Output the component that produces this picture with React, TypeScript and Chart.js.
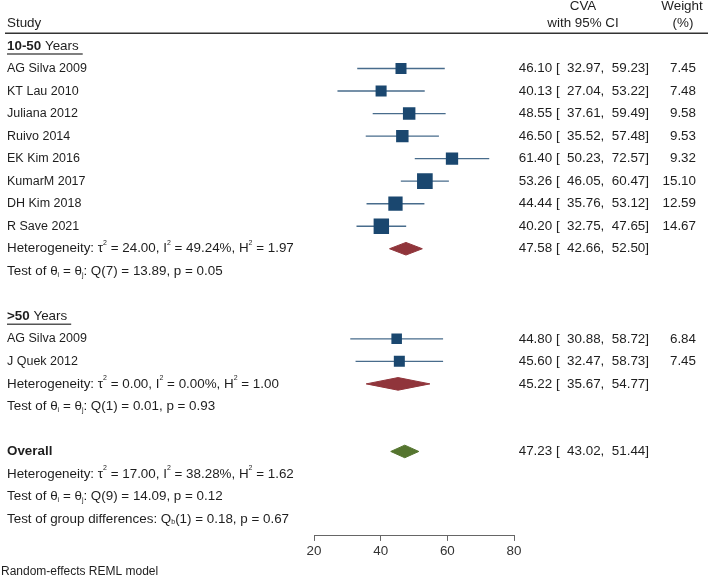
import React, { useEffect, useRef } from "react";
import { Chart, registerables } from "chart.js";

Chart.register(...registerables);

const FONT = '"Liberation Sans", Arial, Helvetica, sans-serif';
const TEXT = "#1e1e1e";
const NAVY = "#1a476f";
const CI_LINE = "rgba(26,71,111,0.8)";
const MAROON = "#90353b";
const GREEN = "#55752f";
const BIG = 13.4;
const NAME = 12.5;
const SMALL = 12;

// ---- data ----
const group1Label = "10-50";
const group1Studies = ["AG Silva 2009", "KT Lau 2010", "Juliana 2012", "Ruivo 2014", "EK Kim 2016", "KumarM 2017", "DH Kim 2018", "R Save 2021"];
const group1Est = [46.1, 40.13, 48.55, 46.5, 61.4, 53.26, 44.44, 40.2];
const group1Lo = [32.97, 27.04, 37.61, 35.52, 50.23, 46.05, 35.76, 32.75];
const group1Hi = [59.23, 53.22, 59.49, 57.48, 72.57, 60.47, 53.12, 47.65];
const group1Weight = [7.45, 7.48, 9.58, 9.53, 9.32, 15.1, 12.59, 14.67];
const group1Summary = [47.58, 42.66, 52.5];
const group1Het = "Heterogeneity: τ^{2} = 24.00, I^{2} = 49.24%, H^{2} = 1.97";
const group1Test = "Test of θ_{i} = θ_{j}: Q(7) = 13.89, p = 0.05";

const group2Label = ">50";
const group2Studies = ["AG Silva 2009", "J Quek 2012"];
const group2Est = [44.8, 45.6];
const group2Lo = [30.88, 32.47];
const group2Hi = [58.72, 58.73];
const group2Weight = [6.84, 7.45];
const group2Summary = [45.22, 35.67, 54.77];
const group2Het = "Heterogeneity: τ^{2} = 0.00, I^{2} = 0.00%, H^{2} = 1.00";
const group2Test = "Test of θ_{i} = θ_{j}: Q(1) = 0.01, p = 0.93";

const overallSummary = [47.23, 43.02, 51.44];
const overallHet = "Heterogeneity: τ^{2} = 17.00, I^{2} = 38.28%, H^{2} = 1.62";
const overallTest = "Test of θ_{i} = θ_{j}: Q(9) = 14.09, p = 0.12";
const groupDiffTest = "Test of group differences: Q_{b}(1) = 0.18, p = 0.67";
const modelNote = "Random-effects REML model";

const xTicks = [20, 40, 60, 80];

// ---- row layout (row indices) ----
const G1_HEAD = 0;
const G1_FIRST = 1;
const G1_HET = G1_FIRST + group1Studies.length; // 9
const G2_HEAD = G1_HET + 3; // 12
const G2_FIRST = G2_HEAD + 1;
const G2_HET = G2_FIRST + group2Studies.length; // 15
const OVERALL = G2_HET + 3; // 18
const GROUP_DIFF = OVERALL + 3; // 21

const DIAMOND_H = 0.28;
const squareRadius = (w: number) => (4.03 * Math.sqrt(w)) / Math.SQRT2;

const ciText = (e: number, l: number, h: number) =>
  `${e.toFixed(2)} [ ${l.toFixed(2).padStart(6, " ")}, ${h.toFixed(2).padStart(6, " ")}]`;

function drawRich(ctx: CanvasRenderingContext2D, s: string, x: number, y: number, size = BIG) {
  const parts = s.split(/(\^\{[^}]*\}|_\{[^}]*\}|\*\*[^*]*\*\*)/g).filter((p) => p.length);
  let cx = x;
  ctx.textAlign = "left";
  ctx.textBaseline = "middle";
  for (const p of parts) {
    let text = p;
    let font = `${size}px ${FONT}`;
    let dy = 0;
    if (p.startsWith("^{")) {
      text = p.slice(2, -1);
      font = `${Math.round(size * 0.52)}px ${FONT}`;
      dy = -5.5;
    } else if (p.startsWith("_{")) {
      text = p.slice(2, -1);
      font = `${Math.round(size * 0.55)}px ${FONT}`;
      dy = 3.5;
    } else if (p.startsWith("**")) {
      text = p.slice(2, -2);
      font = `bold ${size}px ${FONT}`;
    }
    ctx.font = font;
    ctx.fillText(text, cx, y + dy);
    cx += ctx.measureText(text).width;
  }
  return cx - x;
}

const textPlugin = {
  id: "forestText",
  afterDraw(chart: any) {
    const ctx: CanvasRenderingContext2D = chart.ctx;
    const ys = chart.scales.y;
    const rowY = (r: number) => ys.getPixelForValue(r);
    const W = chart.width;
    const LX = 7;
    const CI_RIGHT = 649;
    const W_RIGHT = 696;
    ctx.save();
    ctx.fillStyle = TEXT;

    // header
    ctx.font = `${BIG}px ${FONT}`;
    ctx.textBaseline = "middle";
    ctx.textAlign = "left";
    ctx.fillText("Study", LX, rowY(-1));
    ctx.textAlign = "center";
    ctx.fillText("CVA", 583, rowY(-1.75));
    ctx.fillText("with 95% CI", 583, rowY(-1));
    ctx.fillText("Weight", 682, rowY(-1.75));
    ctx.fillText("(%)", 683, rowY(-1));
    ctx.strokeStyle = "#333";
    ctx.lineWidth = 1.5;
    ctx.beginPath();
    ctx.moveTo(5, rowY(-0.57));
    ctx.lineTo(W, rowY(-0.57));
    ctx.stroke();

    const sectionHead = (label: string, row: number) => {
      ctx.fillStyle = TEXT;
      const w = drawRich(ctx, `**${label}** Years`, LX, rowY(row));
      ctx.strokeStyle = "#555";
      ctx.lineWidth = 1.5;
      ctx.beginPath();
      ctx.moveTo(LX, rowY(row) + 8);
      ctx.lineTo(LX + w + 4, rowY(row) + 8);
      ctx.stroke();
    };

    const studyRows = (names: string[], est: number[], lo: number[], hi: number[], wt: number[], first: number) => {
      names.forEach((n, i) => {
        const y = rowY(first + i);
        ctx.textBaseline = "middle";
        ctx.textAlign = "left";
        ctx.font = `${NAME}px ${FONT}`;
        ctx.fillText(n, LX, y);
        ctx.font = `${BIG}px ${FONT}`;
        ctx.textAlign = "right";
        ctx.fillText(ciText(est[i], lo[i], hi[i]), CI_RIGHT, y);
        ctx.fillText(wt[i].toFixed(2), W_RIGHT, y);
      });
    };

    const summaryCI = (s: number[], row: number) => {
      ctx.font = `${BIG}px ${FONT}`;
      ctx.textAlign = "right";
      ctx.textBaseline = "middle";
      ctx.fillText(ciText(s[0], s[1], s[2]), CI_RIGHT, rowY(row));
    };

    sectionHead(group1Label, G1_HEAD);
    studyRows(group1Studies, group1Est, group1Lo, group1Hi, group1Weight, G1_FIRST);
    drawRich(ctx, group1Het, LX, rowY(G1_HET));
    summaryCI(group1Summary, G1_HET);
    drawRich(ctx, group1Test, LX, rowY(G1_HET + 1));

    sectionHead(group2Label, G2_HEAD);
    studyRows(group2Studies, group2Est, group2Lo, group2Hi, group2Weight, G2_FIRST);
    drawRich(ctx, group2Het, LX, rowY(G2_HET));
    summaryCI(group2Summary, G2_HET);
    drawRich(ctx, group2Test, LX, rowY(G2_HET + 1));

    drawRich(ctx, "**Overall**", LX, rowY(OVERALL));
    summaryCI(overallSummary, OVERALL);
    drawRich(ctx, overallHet, LX, rowY(OVERALL + 1));
    drawRich(ctx, overallTest, LX, rowY(OVERALL + 2));
    drawRich(ctx, groupDiffTest, LX, rowY(GROUP_DIFF));

    ctx.font = `${SMALL}px ${FONT}`;
    ctx.textAlign = "left";
    ctx.textBaseline = "middle";
    ctx.fillText(modelNote, 1, 572);
    ctx.restore();
  },
};

function buildDatasets() {
  const ds: any[] = [];
  const addStudies = (est: number[], lo: number[], hi: number[], wt: number[], first: number) => {
    est.forEach((_, i) => {
      ds.push({
        type: "line",
        data: [
          { x: lo[i], y: first + i },
          { x: hi[i], y: first + i },
        ],
        borderColor: CI_LINE,
        borderWidth: 1.4,
        pointRadius: 0,
        fill: false,
        order: 2,
      });
    });
    ds.push({
      type: "scatter",
      data: est.map((e, i) => ({ x: e, y: first + i })),
      pointStyle: "rect",
      pointRadius: wt.map(squareRadius),
      backgroundColor: NAVY,
      borderColor: NAVY,
      borderWidth: 0,
      order: 1,
    });
  };
  const addDiamond = (s: number[], row: number, color: string) => {
    ds.push({
      type: "line",
      data: [
        { x: s[1], y: row },
        { x: s[0], y: row - DIAMOND_H },
        { x: s[2], y: row },
        { x: s[0], y: row + DIAMOND_H },
        { x: s[1], y: row },
      ],
      fill: "shape",
      backgroundColor: color,
      borderColor: color,
      borderWidth: 1,
      pointRadius: 0,
      tension: 0,
      order: 1,
    });
  };
  addStudies(group1Est, group1Lo, group1Hi, group1Weight, G1_FIRST);
  addDiamond(group1Summary, G1_HET, MAROON);
  addStudies(group2Est, group2Lo, group2Hi, group2Weight, G2_FIRST);
  addDiamond(group2Summary, G2_HET, MAROON);
  addDiamond(overallSummary, OVERALL, GREEN);
  return ds;
}

export default function App() {
  const ref = useRef<HTMLCanvasElement>(null);
  useEffect(() => {
    if (!ref.current) return;
    const chart = new Chart(ref.current, {
      type: "scatter",
      data: { datasets: buildDatasets() },
      options: {
        responsive: false,
        animation: false,
        events: [],
        layout: { padding: { left: 314, right: 194, top: 23.5, bottom: 18 } },
        plugins: { legend: { display: false }, tooltip: { enabled: false } },
        scales: {
          x: {
            type: "linear",
            min: xTicks[0],
            max: xTicks[xTicks.length - 1],
            afterBuildTicks: (scale: any) => {
              scale.ticks = xTicks.map((v) => ({ value: v }));
            },
            ticks: { color: "#333", font: { size: BIG, family: FONT }, padding: 2 },
            grid: { drawOnChartArea: false, drawTicks: true, tickLength: 5, color: "#666", lineWidth: 1 },
            border: { display: true, color: "#666", width: 1 },
          },
          y: { type: "linear", display: false, min: -1, max: 21.75, reverse: true },
        },
      } as any,
      plugins: [textPlugin],
    });
    return () => chart.destroy();
  }, []);
  return (
    <div style={{ position: "fixed", left: 0, top: 0, width: 708, height: 579, background: "#fff" }}>
      <canvas ref={ref} width={708} height={579} style={{ display: "block" }} />
    </div>
  );
}
